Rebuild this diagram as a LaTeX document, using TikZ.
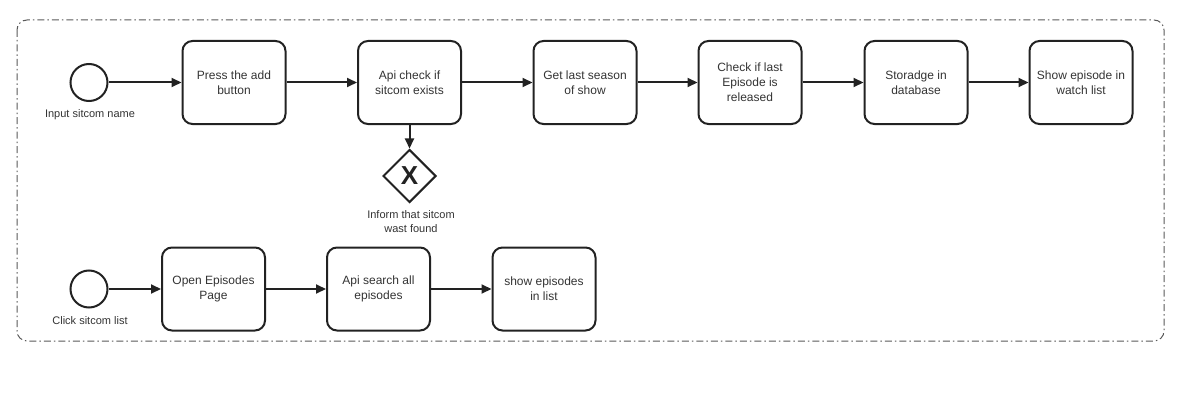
\documentclass[tikz,border=0pt]{standalone}
\usepackage{fontspec}
\setmainfont{Liberation Sans}
\usetikzlibrary{arrows.meta,shapes.geometric}
\definecolor{ln}{HTML}{222222}
\definecolor{tx}{HTML}{333333}
\begin{document}
\begin{tikzpicture}[x=1pt,y=-1pt,
  task/.style={draw=ln,line width=2pt,rounded corners=10pt,minimum width=103pt,minimum height=83pt,align=center,text=tx,font=\fontsize{12}{15}\selectfont,inner sep=2pt},
  evt/.style={draw=ln,line width=2pt,circle,minimum size=37pt,inner sep=0pt},
  lbl/.style={text=tx,font=\fontsize{11}{14}\selectfont,align=center,inner sep=0pt},
  flow/.style={draw=ln,line width=2pt,-{Triangle[length=10pt,width=9pt]}},
  gw/.style={draw=ln,line width=2pt,diamond,minimum size=53pt,inner sep=0pt,aspect=1}]
\useasboundingbox (0,0) rectangle (1189,404);
\draw[draw=gray!70!black,line width=1pt,rounded corners=10pt,dash pattern=on 7pt off 3pt on 1.5pt off 3pt] (17,20) rectangle (1164,341);
% top row
\node[evt] (s1) at (89,82.5) {};
\node[lbl] (s1l) at (90,115) {Input sitcom name};
\node[task] (t1) at (234,82.5) {Press the add\\button};
\node[task] (t2) at (409.5,82.5) {Api check if\\sitcom exists};
\node[task] (t3) at (585,82.5) {Get last season\\of show};
\node[task] (t4) at (750,82.5) {Check if last\\Episode is\\released};
\node[task] (t5) at (916,82.5) {Storadge in\\database};
\node[task] (t6) at (1081,82.5) {Show episode in\\watch list};
\node[gw] (g1) at (409.5,176) {};
\node[font=\fontsize{26}{26}\selectfont\bfseries,text=ln] (gx) at (g1) {X};
\node[lbl] (g1l) at (411,222) {Inform that sitcom\\wast found};
\draw[flow] (s1) -- (t1);
\draw[flow] (t1) -- (t2);
\draw[flow] (t2) -- (t3);
\draw[flow] (t3) -- (t4);
\draw[flow] (t4) -- (t5);
\draw[flow] (t5) -- (t6);
\draw[flow] (t2) -- (g1);
% bottom row
\node[evt] (s2) at (89,289) {};
\node[lbl] (s2l) at (90,321) {Click sitcom list};
\node[task] (b1) at (213.5,289) {Open Episodes\\Page};
\node[task] (b2) at (378.5,289) {Api search all\\episodes};
\node[task] (b3) at (544,289) {show episodes\\in list};
\draw[flow] (s2) -- (b1);
\draw[flow] (b1) -- (b2);
\draw[flow] (b2) -- (b3);
\end{tikzpicture}
\end{document}
